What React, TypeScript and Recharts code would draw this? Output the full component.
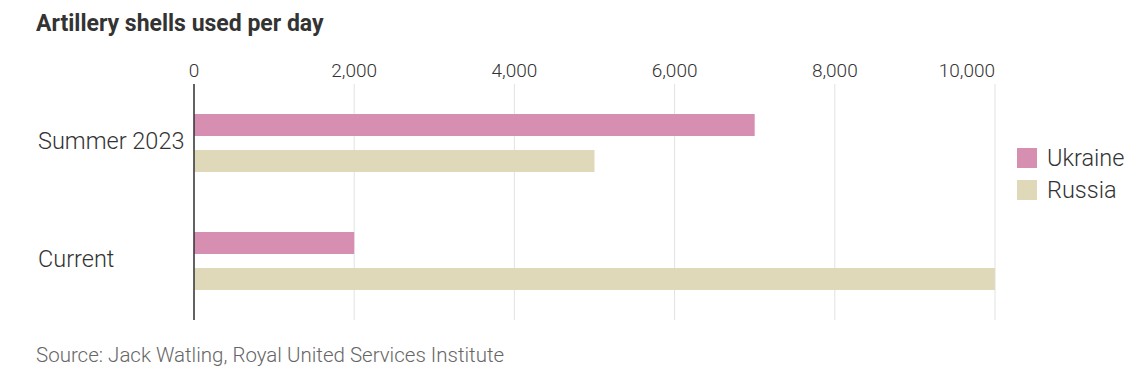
import React from 'react';
import { BarChart, Bar, XAxis, YAxis, CartesianGrid, Legend } from 'recharts';

const categories = ['Summer 2023', 'Current'];
const ukraine = [7000, 2000];
const russia = [5000, 10000];
const xTicks = [0, 2000, 4000, 6000, 8000, 10000];
const seriesNames = ['Ukraine', 'Russia'];
const seriesColors = ['#d68fb0', '#dfd9b9'];

const data = categories.map((name, i) => ({ name, Ukraine: ukraine[i], Russia: russia[i] }));

const FONT = 'Roboto, "Noto Sans", sans-serif';

const XTick = (props: any) => {
  const { x, payload, index } = props;
  const last = index === xTicks.length - 1;
  return (
    <text x={x} y={77} textAnchor={last ? 'end' : 'middle'} fontFamily={FONT} fontWeight={300} fontSize={19} fill="#333">
      {payload.value.toLocaleString('en-US')}
    </text>
  );
};

const YTick = (props: any) => {
  const { y, payload } = props;
  return (
    <text x={38} y={y - 2} dy="0.35em" textAnchor="start" fontFamily={FONT} fontWeight={300} fontSize={23.5} fill="#333">
      {payload.value}
    </text>
  );
};

const LegendContent = () => (
  <div style={{ fontFamily: FONT, fontWeight: 300, fontSize: 23.5, color: '#333' }}>
    {seriesNames.map((n, i) => (
      <div key={n} style={{ display: 'flex', alignItems: 'center', height: 32 }}>
        <span style={{ display: 'inline-block', width: 20, height: 20, background: seriesColors[i], marginRight: 10 }} />
        <span>{n}</span>
      </div>
    ))}
  </div>
);

export default function App() {
  return (
    <div style={{ position: 'absolute', left: 0, top: 0, width: 1140, height: 378, background: '#fff' }}>
      <div style={{ position: 'absolute', left: 36, top: 10, fontFamily: FONT, fontWeight: 700, fontSize: 23, lineHeight: '28px', color: '#333' }}>
        Artillery shells used per day
      </div>
      <BarChart
        width={1140}
        height={378}
        data={data}
        layout="vertical"
        margin={{ top: 54, right: 145, bottom: 58, left: 0 }}
        barSize={22}
        barGap={14}
      >
        <CartesianGrid horizontal={false} vertical={true} stroke="#e2e2e2" />
        <XAxis
          type="number"
          orientation="top"
          domain={[0, 10000]}
          ticks={xTicks}
          height={30}
          axisLine={false}
          tickLine={false}
          tick={<XTick />}
          interval={0}
        />
        <YAxis
          type="category"
          dataKey="name"
          width={194}
          axisLine={{ stroke: '#333', strokeWidth: 1.5 }}
          tickLine={false}
          tick={<YTick />}
        />
        <Legend
          layout="vertical"
          align="center"
          verticalAlign="middle"
          content={<LegendContent />}
          wrapperStyle={{ left: 1017, top: 142, width: 123 }}
        />
        {seriesNames.map((n, i) => (
          <Bar key={n} dataKey={n} fill={seriesColors[i]} isAnimationActive={false} />
        ))}
      </BarChart>
      <div style={{ position: 'absolute', left: 36, top: 343, fontFamily: FONT, fontWeight: 300, fontSize: 20.5, lineHeight: '24px', color: '#666' }}>
        Source: Jack Watling, Royal United Services Institute
      </div>
    </div>
  );
}
